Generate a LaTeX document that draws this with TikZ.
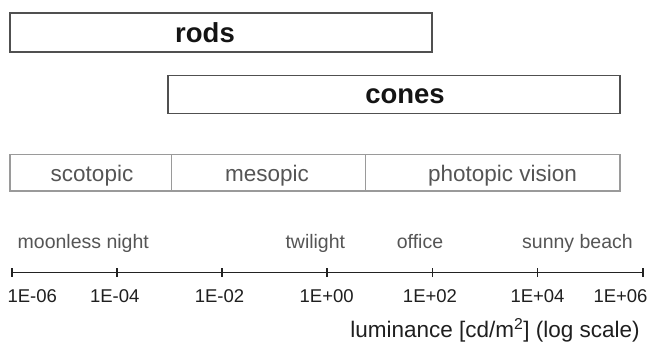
\documentclass[tikz,border=0pt]{standalone}
\usepackage{fontspec}
\setmainfont{Liberation Sans}
\definecolor{boxgray}{HTML}{505050}
\definecolor{cellgray}{HTML}{9A9A9A}
\definecolor{labelgray}{HTML}{555555}
\definecolor{axisgray}{HTML}{222222}
\begin{document}
\begin{tikzpicture}[x=1pt,y=-1pt,
  band/.style={draw=boxgray, line width=1.6pt, inner sep=0pt},
  bandlabel/.style={anchor=base, inner sep=0pt, text=black!92,
    font=\fontsize{27.5}{30}\selectfont\bfseries},
  vcell/.style={draw=cellgray, line width=1.2pt, inner sep=0pt, minimum height=36.7pt},
  vlabel/.style={anchor=base, inner sep=0pt, text=labelgray,
    font=\fontsize{22.5}{25}\selectfont},
  scenelabel/.style={anchor=base, inner sep=0pt, text=labelgray,
    font=\fontsize{19.5}{22}\selectfont},
  ticklabel/.style={anchor=base, inner sep=0pt, text=black!88,
    font=\fontsize{18.5}{21}\selectfont},
  axisline/.style={draw=axisgray, line width=1.5pt},
  tickmark/.style={draw=axisgray, line width=1.7pt}]

% canvas
\fill[white] (0,0) rectangle (651,344);
\useasboundingbox (0,0) rectangle (651,344);

% photoreceptor ranges
\node[band, minimum width=422pt, minimum height=39pt] (rods) at (221,32.5) {};
\node[bandlabel] (rodslabel) at (205,42.5) {rods};
\node[band, minimum width=452pt, minimum height=38pt] (cones) at (394,94.5) {};
\node[bandlabel] (coneslabel) at (405,103.5) {cones};

% vision regimes
\node[vcell, minimum width=161.7pt] (scot) at (90.85,172.65) {};
\node[vcell, minimum width=194pt]   (meso) at (268.7,172.65) {};
\node[vcell, minimum width=254.3pt] (phot) at (492.85,172.65) {};
\node[vlabel] (scotlabel) at (92,181.5) {scotopic};
\node[vlabel] (mesolabel) at (267,181.5) {mesopic};
\node[vlabel] (photlabel) at (502.5,181.5) {photopic vision};

% example scenes
\node[scenelabel] (night)    at (83.3,248.3)  {moonless night};
\node[scenelabel] (twilight) at (315.3,248.3) {twilight};
\node[scenelabel] (office)   at (420,248.3)   {office};
\node[scenelabel] (beach)    at (577.5,248.3) {sunny beach};

% luminance axis
\foreach \i in {0,...,6}{
  \coordinate (t\i) at ({11.7+105.17*\i},272.7);
}
\draw[axisline] (t0) -- (t6);
\foreach \i in {0,...,6}{
  \draw[tickmark] ([yshift=4.5pt]t\i) -- ([yshift=-4.5pt]t\i);
}

% tick labels
\node[ticklabel] (l0) at (32.3,302.5)  {1E-06};
\node[ticklabel] (l1) at (114.7,302.5) {1E-04};
\node[ticklabel] (l2) at (219.5,302.5) {1E-02};
\node[ticklabel] (l3) at (326.7,302.5) {1E+00};
\node[ticklabel] (l4) at (430,302.5)   {1E+02};
\node[ticklabel] (l5) at (537.5,302.5) {1E+04};
\node[ticklabel] (l6) at (620.5,302.5) {1E+06};

% axis title
\node[anchor=base, inner sep=0pt, text=black!88, font=\fontsize{22.5}{25}\selectfont]
  (axistitle) at (495,337.5) {luminance [cd/m\textsuperscript{2}] (log scale)};

\end{tikzpicture}
\end{document}
